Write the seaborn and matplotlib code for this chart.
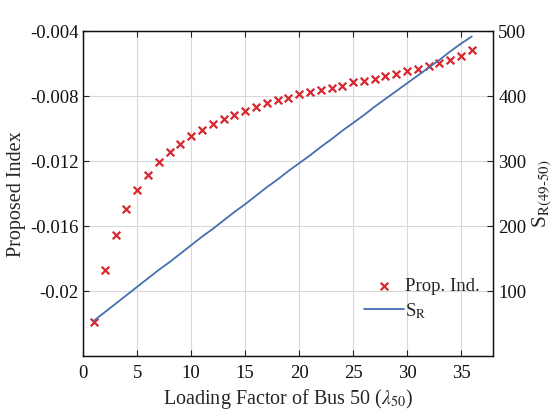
import matplotlib
matplotlib.use("Agg")
import matplotlib.pyplot as plt
import seaborn as sns
import pandas as pd

# loading factor of bus 50
lam = list(range(1, 37))

# proposed index (left axis)
prop_ind = [-0.02191, -0.01870, -0.01653, -0.01494, -0.01377, -0.01282,
            -0.01202, -0.01140, -0.01092, -0.01043, -0.01006, -0.00971,
            -0.00940, -0.00916, -0.00888, -0.00864, -0.00843, -0.00825,
            -0.00808, -0.00788, -0.00775, -0.00761, -0.00746, -0.00734,
            -0.00715, -0.00703, -0.00691, -0.00678, -0.00660, -0.00647,
            -0.00635, -0.00616, -0.00598, -0.00579, -0.00555, -0.00516]

# S_R(49-50) (right axis)
s_r = [55, 68, 81, 94, 107, 120, 133, 145, 158, 171, 184, 196,
       209, 222, 234, 247, 260, 272, 285, 297, 309, 322, 334, 347,
       359, 371, 384, 396, 408, 420, 432, 444, 456, 469, 481, 492]

left_ticks = [-0.004, -0.008, -0.012, -0.016, -0.02]
left_labels = ["-0.004", "-0.008", "-0.012", "-0.016", "-0.02"]
right_ticks = [100, 200, 300, 400, 500]
x_ticks = [0, 5, 10, 15, 20, 25, 30, 35]

df = pd.DataFrame({"lam": lam, "prop": prop_ind, "sr": s_r})

sns.set_style("ticks")
plt.rcParams["font.family"] = ["Liberation Serif", "DejaVu Serif"]
plt.rcParams["mathtext.fontset"] = "stix"
plt.rcParams["axes.unicode_minus"] = False
plt.rcParams["xtick.direction"] = "in"
plt.rcParams["ytick.direction"] = "in"

red = "#D7262E"
blue = "#4271B0"

fig = plt.figure(figsize=(5.6, 4.2), dpi=100)
ax = fig.add_axes([0.1488, 0.1517, 0.7322, 0.7738])
ax2 = ax.twinx()

sns.scatterplot(data=df, x="lam", y="prop", ax=ax, marker="x", color=red,
                s=30, linewidth=1.6, label="Prop. Ind.", legend=False, zorder=3)
sns.lineplot(data=df, x="lam", y="sr", ax=ax2, color=blue, linewidth=1.3,
             label="S$_\\mathrm{R}$", legend=False)

ax.set_xlim(0, 38)
ax.set_ylim(-0.024, -0.004)
ax2.set_ylim(0, 500)
ax.set_xticks(x_ticks)
ax.set_yticks(left_ticks)
ax.set_yticklabels(left_labels)
ax2.set_yticks(right_ticks)

ax.grid(True, color="#d9d9d9", linewidth=0.8)
ax.set_axisbelow(True)

ax.tick_params(axis="both", labelsize=13.5, length=4, width=0.8, colors="#222222",
               top=True, labelcolor="#111111")
ax.tick_params(axis="x", pad=6)
ax2.tick_params(axis="y", labelsize=13.5, length=4, width=0.8, colors="#222222",
                labelcolor="#111111")
for a in (ax, ax2):
    for sp in a.spines.values():
        sp.set_color("#111111")
        sp.set_linewidth(0.9)

ax.set_xlabel("Loading Factor of Bus 50 ($\\lambda_{50}$)", fontsize=14.5, labelpad=4)
ax.set_ylabel("Proposed Index", fontsize=14.5, labelpad=3)
ax2.set_ylabel("S$_\\mathrm{R(49\\text{-}50)}$", fontsize=15.5, labelpad=3)

h1, l1 = ax.get_legend_handles_labels()
h2, l2 = ax2.get_legend_handles_labels()
ax2.legend(h1 + h2, l1 + l2, loc="lower left", bbox_to_anchor=(0.685, 0.11),
           frameon=False, fontsize=13.5, borderaxespad=0, borderpad=0,
           handlelength=2.1, handletextpad=0.1, labelspacing=0.3)

fig.savefig("out.png", dpi=100)
